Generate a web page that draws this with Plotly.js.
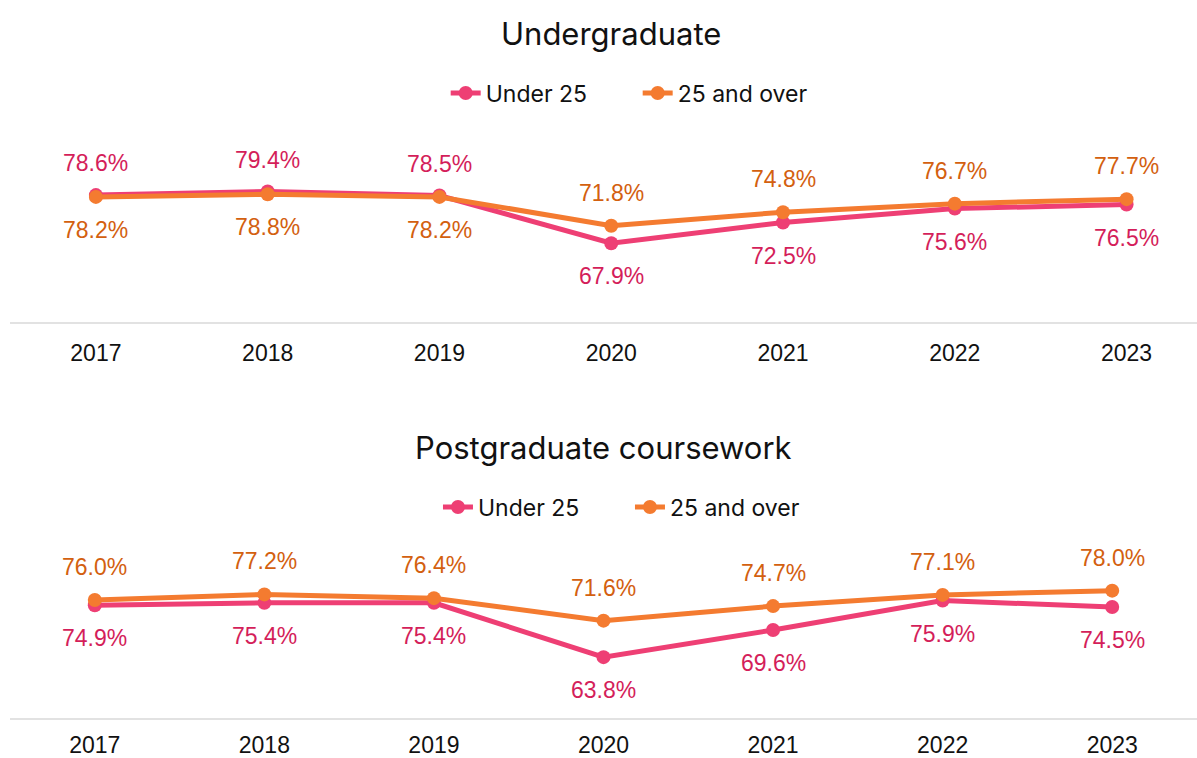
<!DOCTYPE html>
<html>
<head>
<meta charset="utf-8">
<script src="https://cdn.plot.ly/plotly-3.0.1.min.js"></script>
<style>html,body{margin:0;padding:0;background:#fff;}#chart{width:1197px;height:758px;}</style>
</head>
<body>
<div id="chart"></div>
<script>
const years = ['2017','2018','2019','2020','2021','2022','2023'];
const ugUnder25 = [78.6, 79.4, 78.5, 67.9, 72.5, 75.6, 76.5];
const ug25Over  = [78.2, 78.8, 78.2, 71.8, 74.8, 76.7, 77.7];
const pgUnder25 = [74.9, 75.4, 75.4, 63.8, 69.6, 75.9, 74.5];
const pg25Over  = [76.0, 77.2, 76.4, 71.6, 74.7, 77.1, 78.0];
const seriesNames = ['Under 25', '25 and over'];
const panelTitles = ['Undergraduate', 'Postgraduate coursework'];

const PINK = '#EE3F74', ORANGE = '#F47B30';
const PINK_TXT = '#D41E5A', ORANGE_TXT = '#D3600F';
const labelFont = 'Liberation Sans, Arial, sans-serif';
const headFont = 'Inter, Noto Sans, sans-serif';

function lineTrace(y, name, color, xa, ya, legend) {
  return {x: years, y: y, name: name, type: 'scatter', mode: 'lines+markers',
    line: {color: color, width: 5}, marker: {color: color, size: 14},
    xaxis: xa, yaxis: ya, legend: legend, hoverinfo: 'skip'};
}
const traces = [
  lineTrace(ugUnder25, seriesNames[0], PINK, 'x', 'y', 'legend'),
  lineTrace(ug25Over, seriesNames[1], ORANGE, 'x', 'y', 'legend'),
  lineTrace(pgUnder25, seriesNames[0], PINK, 'x2', 'y2', 'legend2'),
  lineTrace(pg25Over, seriesNames[1], ORANGE, 'x2', 'y2', 'legend2')
];

const annotations = [];
function addLabels(a, b, xref, yref) {
  // a: pink series, b: orange series; the higher one gets its label above
  years.forEach((yr, i) => {
    const pinkUp = a[i] > b[i];
    annotations.push({x: i, y: a[i], xref: xref, yref: yref, text: a[i].toFixed(1) + '%',
      showarrow: false, xanchor: 'center', yanchor: 'middle', yshift: pinkUp ? 32 : -33,
      font: {family: labelFont, size: 23, color: PINK_TXT}});
    annotations.push({x: i, y: b[i], xref: xref, yref: yref, text: b[i].toFixed(1) + '%',
      showarrow: false, xanchor: 'center', yanchor: 'middle', yshift: pinkUp ? -33 : 33,
      font: {family: labelFont, size: 23, color: ORANGE_TXT}});
  });
}
addLabels(ugUnder25, ug25Over, 'x', 'y');
addLabels(pgUnder25, pg25Over, 'x2', 'y2');
annotations.push({text: panelTitles[0], xref: 'paper', yref: 'paper', x: 0.5063, y: 0.954,
  showarrow: false, xanchor: 'center', yanchor: 'middle', font: {family: headFont, size: 31, color: '#111'}});
annotations.push({text: panelTitles[1], xref: 'paper', yref: 'paper', x: 0.5004, y: 0.3774,
  showarrow: false, xanchor: 'center', yanchor: 'middle', font: {family: headFont, size: 31, color: '#111'}});

const xCommon = {type: 'category', showgrid: false, zeroline: false, showline: true,
  linecolor: '#e2e2e2', linewidth: 2, ticks: '', fixedrange: true,
  tickfont: {family: labelFont, size: 23, color: '#111'}};
const yCommon = {showgrid: false, zeroline: false, showline: false, showticklabels: false, ticks: '', fixedrange: true};

const layout = {
  width: 1197, height: 758,
  margin: {l: 10, r: 0, t: 0, b: 40},
  paper_bgcolor: '#fff', plot_bgcolor: '#fff',
  xaxis: Object.assign({}, xCommon, {domain: [0, 1], anchor: 'y', range: [-0.5, 6.41], ticklabelstandoff: 9}),
  yaxis: Object.assign({}, yCommon, {domain: [0.5515, 0.8649], anchor: 'x', range: [50.4, 100.4]}),
  xaxis2: Object.assign({}, xCommon, {domain: [0, 1], anchor: 'y2', range: [-0.5, 6.5], ticklabelstandoff: 5}),
  yaxis2: Object.assign({}, yCommon, {domain: [0, 0.326], anchor: 'x2', range: [50.8, 100.8]}),
  legend: {orientation: 'h', x: 0.5288, y: 0.8705, xanchor: 'center', yanchor: 'middle',
    font: {family: headFont, size: 23, color: '#111'}, entrywidth: 147, bgcolor: 'rgba(0,0,0,0)'},
  legend2: {orientation: 'h', x: 0.5223, y: 0.2939, xanchor: 'center', yanchor: 'middle',
    font: {family: headFont, size: 23, color: '#111'}, entrywidth: 147, bgcolor: 'rgba(0,0,0,0)'},
  annotations: annotations,
  showlegend: true
};
Plotly.newPlot('chart', traces, layout, {displayModeBar: false, staticPlot: true});
</script>
</body>
</html>
